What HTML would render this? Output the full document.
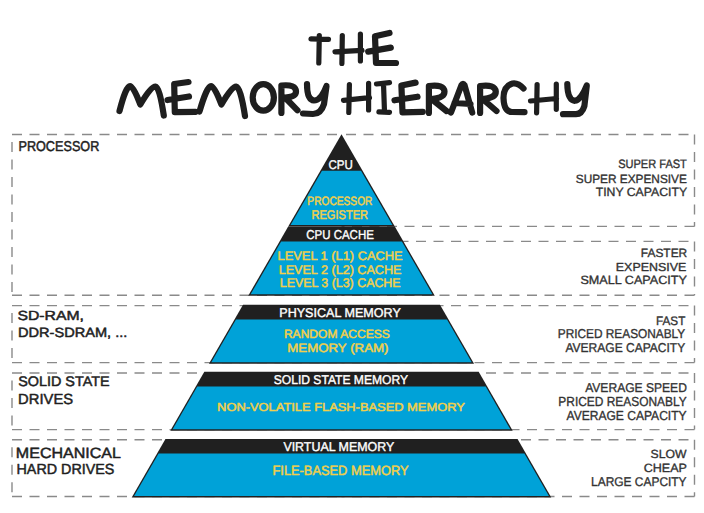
<!DOCTYPE html>
<html><head><meta charset="utf-8"><style>
html,body{margin:0;padding:0;background:#fff;width:704px;height:513px;overflow:hidden}
svg{display:block}
text{font-family:"Liberation Sans", sans-serif;text-rendering:geometricPrecision}
</style></head><body>
<svg width="704" height="513" viewBox="0 0 704 513">
<rect width="704" height="513" fill="#fff"/>
<line x1="12.00" y1="134.50" x2="341.50" y2="134.50" stroke="#8a8a8a" stroke-width="1.4" stroke-dasharray="10 7.5" fill="none" stroke-dashoffset="0"/>
<line x1="12.00" y1="134.50" x2="12.00" y2="295.20" stroke="#8a8a8a" stroke-width="1.4" stroke-dasharray="10 7.5" fill="none" stroke-dashoffset="10"/>
<line x1="12.00" y1="295.20" x2="341.50" y2="295.20" stroke="#8a8a8a" stroke-width="1.4" stroke-dasharray="10 7.5" fill="none" stroke-dashoffset="0"/>
<line x1="12.00" y1="305.60" x2="341.50" y2="305.60" stroke="#8a8a8a" stroke-width="1.4" stroke-dasharray="10 7.5" fill="none" stroke-dashoffset="0"/>
<line x1="12.00" y1="305.60" x2="12.00" y2="362.60" stroke="#8a8a8a" stroke-width="1.4" stroke-dasharray="10 7.5" fill="none" stroke-dashoffset="10"/>
<line x1="12.00" y1="362.60" x2="341.50" y2="362.60" stroke="#8a8a8a" stroke-width="1.4" stroke-dasharray="10 7.5" fill="none" stroke-dashoffset="0"/>
<line x1="12.00" y1="373.00" x2="341.50" y2="373.00" stroke="#8a8a8a" stroke-width="1.4" stroke-dasharray="10 7.5" fill="none" stroke-dashoffset="0"/>
<line x1="12.00" y1="373.00" x2="12.00" y2="429.60" stroke="#8a8a8a" stroke-width="1.4" stroke-dasharray="10 7.5" fill="none" stroke-dashoffset="10"/>
<line x1="12.00" y1="429.60" x2="341.50" y2="429.60" stroke="#8a8a8a" stroke-width="1.4" stroke-dasharray="10 7.5" fill="none" stroke-dashoffset="0"/>
<line x1="12.00" y1="439.80" x2="341.50" y2="439.80" stroke="#8a8a8a" stroke-width="1.4" stroke-dasharray="10 7.5" fill="none" stroke-dashoffset="0"/>
<line x1="12.00" y1="439.80" x2="12.00" y2="496.50" stroke="#8a8a8a" stroke-width="1.4" stroke-dasharray="10 7.5" fill="none" stroke-dashoffset="10"/>
<line x1="12.00" y1="496.50" x2="341.50" y2="496.50" stroke="#8a8a8a" stroke-width="1.4" stroke-dasharray="10 7.5" fill="none" stroke-dashoffset="0"/>
<line x1="694.50" y1="134.50" x2="341.50" y2="134.50" stroke="#8a8a8a" stroke-width="1.4" stroke-dasharray="10 7.5" fill="none" stroke-dashoffset="11.5"/>
<line x1="694.50" y1="134.50" x2="694.50" y2="226.40" stroke="#8a8a8a" stroke-width="1.4" stroke-dasharray="10 7.5" fill="none" stroke-dashoffset="0"/>
<line x1="694.50" y1="226.40" x2="341.50" y2="226.40" stroke="#8a8a8a" stroke-width="1.4" stroke-dasharray="10 7.5" fill="none" stroke-dashoffset="0"/>
<line x1="694.50" y1="241.40" x2="341.50" y2="241.40" stroke="#8a8a8a" stroke-width="1.4" stroke-dasharray="10 7.5" fill="none" stroke-dashoffset="11.5"/>
<line x1="694.50" y1="241.40" x2="694.50" y2="295.20" stroke="#8a8a8a" stroke-width="1.4" stroke-dasharray="10 7.5" fill="none" stroke-dashoffset="0"/>
<line x1="694.50" y1="295.20" x2="341.50" y2="295.20" stroke="#8a8a8a" stroke-width="1.4" stroke-dasharray="10 7.5" fill="none" stroke-dashoffset="0"/>
<line x1="694.50" y1="305.60" x2="341.50" y2="305.60" stroke="#8a8a8a" stroke-width="1.4" stroke-dasharray="10 7.5" fill="none" stroke-dashoffset="11.5"/>
<line x1="694.50" y1="305.60" x2="694.50" y2="362.60" stroke="#8a8a8a" stroke-width="1.4" stroke-dasharray="10 7.5" fill="none" stroke-dashoffset="0"/>
<line x1="694.50" y1="362.60" x2="341.50" y2="362.60" stroke="#8a8a8a" stroke-width="1.4" stroke-dasharray="10 7.5" fill="none" stroke-dashoffset="0"/>
<line x1="694.50" y1="373.00" x2="341.50" y2="373.00" stroke="#8a8a8a" stroke-width="1.4" stroke-dasharray="10 7.5" fill="none" stroke-dashoffset="11.5"/>
<line x1="694.50" y1="373.00" x2="694.50" y2="429.60" stroke="#8a8a8a" stroke-width="1.4" stroke-dasharray="10 7.5" fill="none" stroke-dashoffset="0"/>
<line x1="694.50" y1="429.60" x2="341.50" y2="429.60" stroke="#8a8a8a" stroke-width="1.4" stroke-dasharray="10 7.5" fill="none" stroke-dashoffset="0"/>
<line x1="694.50" y1="439.80" x2="341.50" y2="439.80" stroke="#8a8a8a" stroke-width="1.4" stroke-dasharray="10 7.5" fill="none" stroke-dashoffset="11.5"/>
<line x1="694.50" y1="439.80" x2="694.50" y2="496.50" stroke="#8a8a8a" stroke-width="1.4" stroke-dasharray="10 7.5" fill="none" stroke-dashoffset="0"/>
<line x1="694.50" y1="496.50" x2="341.50" y2="496.50" stroke="#8a8a8a" stroke-width="1.4" stroke-dasharray="10 7.5" fill="none" stroke-dashoffset="0"/>
<polygon points="341.50,134.30 341.50,134.30 394.81,226.60 288.19,226.60" fill="#202020"/>
<polygon points="321.98,170.70 361.02,170.70 392.44,225.10 290.56,225.10" fill="#00a2d8"/>
<polygon points="288.19,226.60 394.81,226.60 434.78,295.80 248.22,295.80" fill="#202020"/>
<polygon points="281.14,241.40 401.86,241.40 432.41,294.30 250.59,294.30" fill="#00a2d8"/>
<polygon points="243.02,304.80 439.98,304.80 474.06,363.80 208.94,363.80" fill="#202020"/>
<polygon points="236.00,319.55 447.00,319.55 471.69,362.30 211.31,362.30" fill="#00a2d8"/>
<polygon points="204.32,371.80 478.68,371.80 512.70,430.70 170.30,430.70" fill="#202020"/>
<polygon points="197.27,386.60 485.73,386.60 510.33,429.20 172.67,429.20" fill="#00a2d8"/>
<polygon points="165.45,439.10 517.55,439.10 551.28,497.50 131.72,497.50" fill="#202020"/>
<polygon points="158.60,453.55 524.40,453.55 548.92,496.00 134.08,496.00" fill="#00a2d8"/>
<g fill="none" stroke="#1e1e1e" stroke-width="6.2" stroke-linecap="round" stroke-linejoin="round">
<path stroke-width="5.2" d="M311,38.8 L328.5,39.4 M319.3,35.5 L318.8,63"/>
<path stroke-width="5.2" d="M342.3,35.5 L341.9,63.5 M360.4,34 L360.4,61 M335,51.8 L362,50.4"/>
<path d="M389.5,33 L375,36.2 L376,63 L396,63 M368.2,51.6 L390.8,47.6"/>
<path d="M119.5,111 Q126,86 130,86 Q133.5,86 140.3,104.5 Q151,86 155.5,86.5 Q159.5,87 163.8,115.5"/>
<path d="M188.5,82 L174.2,84 L174.8,112.2 L195.5,111.8 M167.5,100 L189,96.5"/>
<path d="M199.5,111.5 Q207,86 211,86 Q214.5,86 221.4,104.5 Q232,86 236,86.5 Q240.5,87 245,116"/>
<ellipse cx="263.3" cy="97.4" rx="10.6" ry="13.2"/>
<path d="M281.4,113 L281.4,85.5 Q296,84 296,91.5 Q296,97 285,97.5 L297.5,110.3"/>
<path d="M307,84 Q307,100 314,100.5 Q321,100.5 326.5,86 L324,104 Q321,114 313,114 L303,113.5"/>
<path stroke-width="5.2" d="M349.4,84.5 L348.8,112.5 M368.6,83.3 L368.6,110 M343.5,100.3 L369.5,97.7"/>
<path stroke-width="5.2" d="M376.5,84 L389.5,82.6 M383.5,83.3 L384.5,112 M378.9,111.8 L389.5,112.3"/>
<path d="M415.6,82.6 L401.4,85.5 L402.5,112.4 L422.8,111.8 M394.5,100.3 L417.5,96.7"/>
<path d="M428.9,113 L428.9,86 Q444,84 444.5,91.5 Q444.5,98 431.5,99 L446.5,111"/>
<path d="M451,112.5 L461.5,85 Q463,82.5 464.5,85 L472.2,112.5 M454.5,103 L470.5,104"/>
<path d="M480.1,113 L480.1,86 Q495,84 495.8,91.5 Q496,98 482.6,99 L496.5,111"/>
<path d="M523.5,88.5 Q518,82.5 512.5,83.5 Q503.5,86 503.5,98 Q504,112 512,112 L524.5,112.2"/>
<path stroke-width="5.2" d="M537.1,84.5 L536.6,112.8 M556.3,84 L556.3,109.3 M530.5,101 L556.5,98.5"/>
<path d="M567.3,84 Q567.5,100 574.8,100.8 Q581,100 586.8,85.5 L584.4,106 Q582,114 576,114.2 L563,114.2"/>
</g>
<text id="p1" x="328.50" y="168.68" font-size="12.63" font-weight="normal" textLength="24.31" lengthAdjust="spacingAndGlyphs" fill="#ffffff" stroke="#ffffff" stroke-width="0.4" stroke-linejoin="round">CPU</text>
<text id="p2" x="306.24" y="239.09" font-size="12.88" font-weight="normal" textLength="67.63" lengthAdjust="spacingAndGlyphs" fill="#ffffff" stroke="#ffffff" stroke-width="0.4" stroke-linejoin="round">CPU CACHE</text>
<text id="p3" x="279.27" y="317.04" font-size="12.79" font-weight="normal" textLength="121.53" lengthAdjust="spacingAndGlyphs" fill="#ffffff" stroke="#ffffff" stroke-width="0.4" stroke-linejoin="round">PHYSICAL MEMORY</text>
<text id="p4" x="273.71" y="383.94" font-size="12.74" font-weight="normal" textLength="134.34" lengthAdjust="spacingAndGlyphs" fill="#ffffff" stroke="#ffffff" stroke-width="0.4" stroke-linejoin="round">SOLID STATE MEMORY</text>
<text id="p5" x="283.39" y="450.81" font-size="12.80" font-weight="normal" textLength="110.86" lengthAdjust="spacingAndGlyphs" fill="#ffffff" stroke="#ffffff" stroke-width="0.4" stroke-linejoin="round">VIRTUAL MEMORY</text>
<text id="y1" x="307.37" y="205.38" font-size="12.07" font-weight="normal" textLength="65.07" lengthAdjust="spacingAndGlyphs" fill="#f2cf4a" stroke="#f2cf4a" stroke-width="0.5" stroke-linejoin="round">PROCESSOR</text>
<text id="y2" x="311.39" y="219.36" font-size="12.63" font-weight="normal" textLength="56.69" lengthAdjust="spacingAndGlyphs" fill="#f2cf4a" stroke="#f2cf4a" stroke-width="0.5" stroke-linejoin="round">REGISTER</text>
<text id="y3" x="277.58" y="259.76" font-size="12.35" font-weight="normal" textLength="125.04" lengthAdjust="spacingAndGlyphs" fill="#f2cf4a" stroke="#f2cf4a" stroke-width="0.5" stroke-linejoin="round">LEVEL 1 (L1) CACHE</text>
<text id="y4" x="278.65" y="273.54" font-size="12.53" font-weight="normal" textLength="122.84" lengthAdjust="spacingAndGlyphs" fill="#f2cf4a" stroke="#f2cf4a" stroke-width="0.5" stroke-linejoin="round">LEVEL 2 (L2) CACHE</text>
<text id="y5" x="279.75" y="287.04" font-size="12.56" font-weight="normal" textLength="120.84" lengthAdjust="spacingAndGlyphs" fill="#f2cf4a" stroke="#f2cf4a" stroke-width="0.5" stroke-linejoin="round">LEVEL 3 (L3) CACHE</text>
<text id="y6" x="283.91" y="338.12" font-size="11.95" font-weight="normal" textLength="105.89" lengthAdjust="spacingAndGlyphs" fill="#f2cf4a" stroke="#f2cf4a" stroke-width="0.5" stroke-linejoin="round">RANDOM ACCESS</text>
<text id="y7" x="287.24" y="351.82" font-size="12.16" font-weight="normal" textLength="101.29" lengthAdjust="spacingAndGlyphs" fill="#f2cf4a" stroke="#f2cf4a" stroke-width="0.5" stroke-linejoin="round">MEMORY (RAM)</text>
<text id="y8" x="217.11" y="410.78" font-size="11.63" font-weight="normal" textLength="247.69" lengthAdjust="spacingAndGlyphs" fill="#f2cf4a" stroke="#f2cf4a" stroke-width="0.5" stroke-linejoin="round">NON-VOLATILE FLASH-BASED MEMORY</text>
<text id="y9" x="272.49" y="475.37" font-size="13.42" font-weight="normal" textLength="136.02" lengthAdjust="spacingAndGlyphs" fill="#f2cf4a" stroke="#f2cf4a" stroke-width="0.5" stroke-linejoin="round">FILE-BASED MEMORY</text>
<text id="l1" x="18.45" y="151.10" font-size="14.19" font-weight="normal" textLength="80.91" lengthAdjust="spacingAndGlyphs" fill="#1f1f1f" stroke="#1f1f1f" stroke-width="0.5" stroke-linejoin="round">PROCESSOR</text>
<text id="l2" x="17.44" y="320.15" font-size="13.27" font-weight="normal" textLength="66.54" lengthAdjust="spacingAndGlyphs" fill="#1f1f1f" stroke="#1f1f1f" stroke-width="0.5" stroke-linejoin="round">SD-RAM,</text>
<text id="l3" x="17.96" y="337.30" font-size="13.37" font-weight="normal" textLength="109.42" lengthAdjust="spacingAndGlyphs" fill="#1f1f1f" stroke="#1f1f1f" stroke-width="0.5" stroke-linejoin="round">DDR-SDRAM, ...</text>
<text id="l4" x="18.21" y="385.89" font-size="13.84" font-weight="normal" textLength="91.40" lengthAdjust="spacingAndGlyphs" fill="#1f1f1f" stroke="#1f1f1f" stroke-width="0.5" stroke-linejoin="round">SOLID STATE</text>
<text id="l5" x="18.13" y="403.67" font-size="14.72" font-weight="normal" textLength="55.04" lengthAdjust="spacingAndGlyphs" fill="#1f1f1f" stroke="#1f1f1f" stroke-width="0.5" stroke-linejoin="round">DRIVES</text>
<text id="l6" x="15.84" y="457.94" font-size="14.87" font-weight="normal" textLength="105.16" lengthAdjust="spacingAndGlyphs" fill="#1f1f1f" stroke="#1f1f1f" stroke-width="0.5" stroke-linejoin="round">MECHANICAL</text>
<text id="l7" x="16.47" y="474.34" font-size="14.65" font-weight="normal" textLength="97.94" lengthAdjust="spacingAndGlyphs" fill="#1f1f1f" stroke="#1f1f1f" stroke-width="0.5" stroke-linejoin="round">HARD DRIVES</text>
<text id="r1" x="618.20" y="168.15" font-size="12.12" font-weight="normal" textLength="68.65" lengthAdjust="spacingAndGlyphs" fill="#333333" stroke="#333333" stroke-width="0.35" stroke-linejoin="round">SUPER FAST</text>
<text id="r2" x="575.78" y="182.51" font-size="11.93" font-weight="normal" textLength="111.08" lengthAdjust="spacingAndGlyphs" fill="#333333" stroke="#333333" stroke-width="0.35" stroke-linejoin="round">SUPER EXPENSIVE</text>
<text id="r3" x="595.70" y="196.37" font-size="11.97" font-weight="normal" textLength="91.45" lengthAdjust="spacingAndGlyphs" fill="#333333" stroke="#333333" stroke-width="0.35" stroke-linejoin="round">TINY CAPACITY</text>
<text id="r4" x="640.77" y="257.42" font-size="11.99" font-weight="normal" textLength="46.50" lengthAdjust="spacingAndGlyphs" fill="#333333" stroke="#333333" stroke-width="0.35" stroke-linejoin="round">FASTER</text>
<text id="r5" x="615.84" y="270.93" font-size="11.60" font-weight="normal" textLength="70.40" lengthAdjust="spacingAndGlyphs" fill="#333333" stroke="#333333" stroke-width="0.35" stroke-linejoin="round">EXPENSIVE</text>
<text id="r6" x="580.40" y="284.44" font-size="11.95" font-weight="normal" textLength="106.52" lengthAdjust="spacingAndGlyphs" fill="#333333" stroke="#333333" stroke-width="0.35" stroke-linejoin="round">SMALL CAPACITY</text>
<text id="r7" x="656.05" y="324.80" font-size="12.30" font-weight="normal" textLength="29.26" lengthAdjust="spacingAndGlyphs" fill="#333333" stroke="#333333" stroke-width="0.35" stroke-linejoin="round">FAST</text>
<text id="r8" x="557.77" y="338.25" font-size="12.91" font-weight="normal" textLength="127.47" lengthAdjust="spacingAndGlyphs" fill="#333333" stroke="#333333" stroke-width="0.35" stroke-linejoin="round">PRICED REASONABLY</text>
<text id="r9" x="565.43" y="351.88" font-size="12.85" font-weight="normal" textLength="119.79" lengthAdjust="spacingAndGlyphs" fill="#333333" stroke="#333333" stroke-width="0.35" stroke-linejoin="round">AVERAGE CAPACITY</text>
<text id="r10" x="585.18" y="391.72" font-size="12.78" font-weight="normal" textLength="101.71" lengthAdjust="spacingAndGlyphs" fill="#333333" stroke="#333333" stroke-width="0.35" stroke-linejoin="round">AVERAGE SPEED</text>
<text id="r11" x="558.36" y="406.39" font-size="13.15" font-weight="normal" textLength="128.30" lengthAdjust="spacingAndGlyphs" fill="#333333" stroke="#333333" stroke-width="0.35" stroke-linejoin="round">PRICED REASONABLY</text>
<text id="r12" x="566.53" y="420.32" font-size="13.02" font-weight="normal" textLength="120.10" lengthAdjust="spacingAndGlyphs" fill="#333333" stroke="#333333" stroke-width="0.35" stroke-linejoin="round">AVERAGE CAPACITY</text>
<text id="r13" x="650.60" y="458.26" font-size="11.89" font-weight="normal" textLength="35.95" lengthAdjust="spacingAndGlyphs" fill="#333333" stroke="#333333" stroke-width="0.35" stroke-linejoin="round">SLOW</text>
<text id="r14" x="643.66" y="472.46" font-size="11.95" font-weight="normal" textLength="43.28" lengthAdjust="spacingAndGlyphs" fill="#333333" stroke="#333333" stroke-width="0.35" stroke-linejoin="round">CHEAP</text>
<text id="r15" x="591.11" y="486.29" font-size="12.73" font-weight="normal" textLength="95.47" lengthAdjust="spacingAndGlyphs" fill="#333333" stroke="#333333" stroke-width="0.35" stroke-linejoin="round">LARGE CAPCITY</text>
</svg>
</body></html>
